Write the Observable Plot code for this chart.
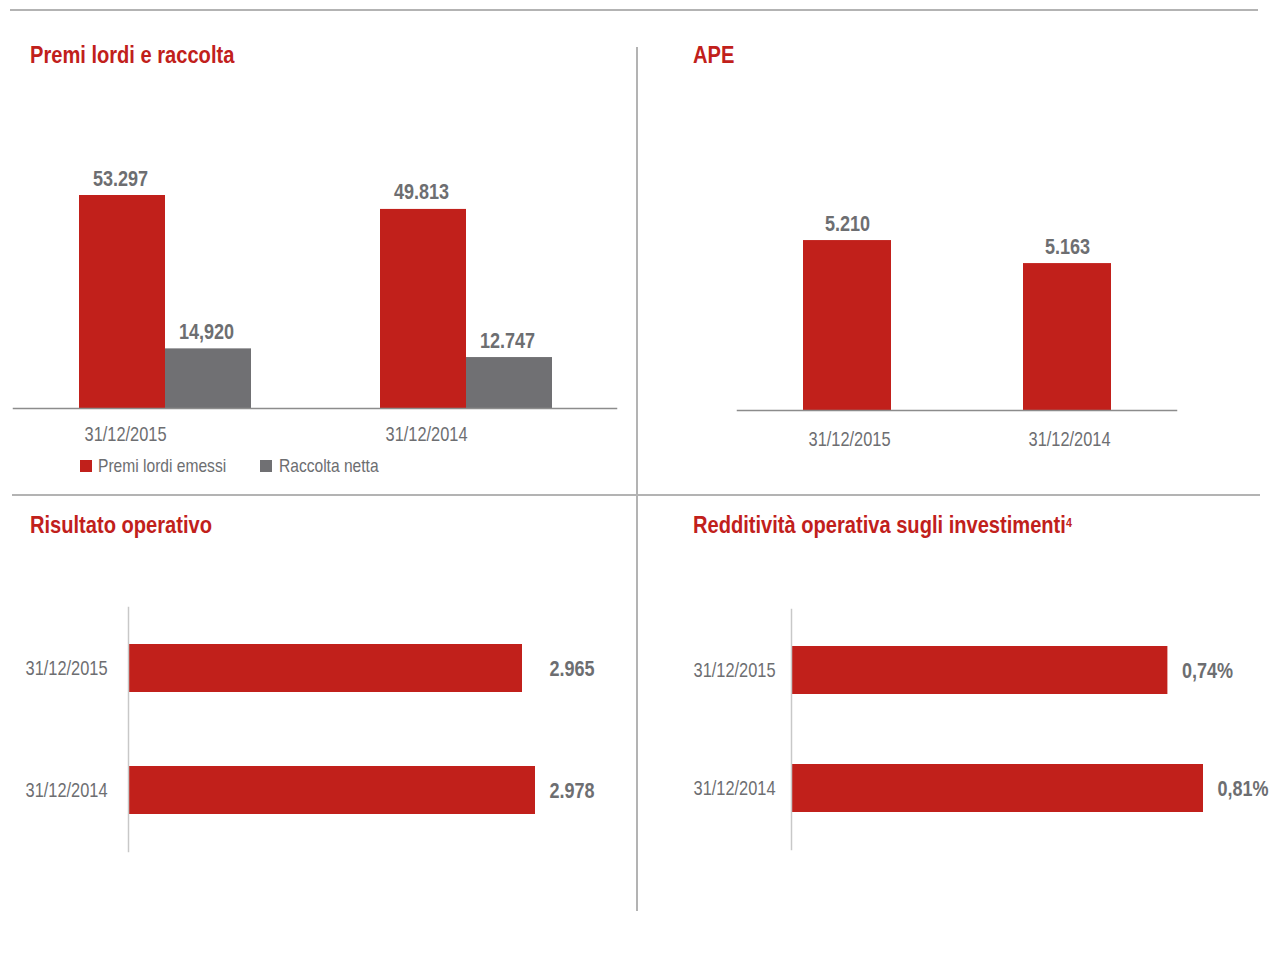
<!DOCTYPE html>
<html>
<head>
<meta charset="utf-8">
<script src="https://cdn.jsdelivr.net/npm/d3@7"></script>
<script src="https://cdn.jsdelivr.net/npm/@observablehq/plot@0.6"></script>
<style>
  html, body { margin: 0; padding: 0; background: #fff; }
  #root { position: relative; width: 1271px; height: 964px; overflow: hidden;
    font-family: "Liberation Sans", Arial, sans-serif; }
  .title { position: absolute; color: #c1201b; font-weight: bold; font-size: 24.5px; line-height: 24px;
    white-space: nowrap; transform: scaleX(0.82); transform-origin: 0 0; }
  .title sup { font-size: 13px; font-weight: bold; vertical-align: top; position: relative; top: -2px; }
  .hline { position: absolute; height: 0; border-top: 2px solid #b3b3b3; }
  .vline { position: absolute; width: 0; border-left: 2px solid #b3b3b3; }
  .legend { position: absolute; color: #6d6e71; font-size: 19px; line-height: 20px; white-space: nowrap;
    transform: scaleX(0.82); transform-origin: 0 0; }
  .sw { position: absolute; width: 12px; height: 12px; }
</style>
</head>
<body>
<div id="root"></div>
<script>
// ---- data ----
const dates = ["31/12/2015", "31/12/2014"];
const series = ["Premi lordi emessi", "Raccolta netta"];
const premiLordi = [53297, 49813];
const raccoltaNetta = [14920, 12747];
const premiLabels = ["53.297", "49.813"];
const raccoltaLabels = ["14,920", "12.747"];
const ape = [5210, 5163];
const apeLabels = ["5.210", "5.163"];
const risultato = [2965, 2978];
const risultatoLabels = ["2.965", "2.978"];
const redditivita = [0.74, 0.81];
const redditivitaLabels = ["0,74%", "0,81%"];
const titles = ["Premi lordi e raccolta", "APE", "Risultato operativo", "Redditività operativa sugli investimenti"];

// ---- style ----
const RED = "#c1201b";
const GRAY = "#707073";
const TXT = "#6d6e71";
const AXIS = "#8c8c8c";
const VAXIS = "#c8c8c8";
const FONT = '"Liberation Sans", Arial, sans-serif';
const NARROW = 0.82;
const svgStyle = {fontFamily: FONT, fontSize: "20px", background: "transparent", overflow: "visible", color: TXT};

const root = document.getElementById("root");
function place(el, left, top) {
  el.style.position = "absolute";
  el.style.left = left + "px";
  el.style.top = top + "px";
  root.appendChild(el);
}
function div(cls, css, html) {
  const d = document.createElement("div");
  d.className = cls;
  Object.assign(d.style, css);
  if (html != null) d.innerHTML = html;
  root.appendChild(d);
  return d;
}
// narrow the glyphs of every text horizontally around its own anchor (condensed typeface look)
function condense(svg) {
  svg.querySelectorAll("text").forEach(t => {
    const xa = t.getAttribute("x");
    const x = (xa && /^-?[\d.]+$/.test(xa)) ? +xa : 0;
    const tr = t.getAttribute("transform") || "";
    t.setAttribute("transform", `${tr} translate(${x},0) scale(${NARROW},1) translate(${-x},0)`.trim());
  });
  return svg;
}

// separators
div("hline", {left: "10px", top: "9px", width: "1248px"});
div("vline", {left: "636px", top: "47px", height: "864px"});
div("hline", {left: "12px", top: "494px", width: "1248px"});

// titles
div("title", {left: "30px", top: "43px"}, titles[0]);
div("title", {left: "693px", top: "43px"}, titles[1]);
div("title", {left: "30px", top: "513px"}, titles[2]);
div("title", {left: "693px", top: "513px"}, titles[3] + "<sup>4</sup>");

// ---- Panel 1: Premi lordi e raccolta ----
const premiData = dates.flatMap((d, i) => [
  {date: d, series: series[0], value: premiLordi[i], label: premiLabels[i]},
  {date: d, series: series[1], value: raccoltaNetta[i], label: raccoltaLabels[i]}
]);
const p1 = Plot.plot({
  width: 637, height: 350,
  marginLeft: 13, marginRight: 20, marginTop: 0, marginBottom: 42,
  fx: {domain: dates, paddingInner: 0.4252, paddingOuter: 0.2159, axis: null, label: null},
  x: {domain: series, padding: 0, axis: null},
  y: {domain: [0, 77068], axis: null},
  color: {domain: series, range: [RED, GRAY]},
  style: svgStyle,
  marks: [
    Plot.barY(premiData, {fx: "date", x: "series", y: "value", fill: "series"}),
    Plot.frame({anchor: "bottom", facet: "super", insetLeft: -65, insetRight: -64, stroke: AXIS, strokeWidth: 1.5}),
    Plot.text(premiData, {fx: "date", x: "series", y: "value", text: "label", lineAnchor: "bottom", dy: -10, dx: -2,
      fontSize: 22, fontWeight: "bold", fill: TXT}),
    Plot.text(dates, {fx: d => d, x: () => series[0], text: d => d, frameAnchor: "bottom", dy: 32, dx: 3,
      fontSize: 20, fill: TXT})
  ]
});
place(condense(p1), 0, 100);

// legend
div("sw", {left: "80px", top: "460px", background: RED});
div("legend", {left: "98px", top: "456px"}, series[0]);
div("sw", {left: "260px", top: "460px", background: GRAY});
div("legend", {left: "279px", top: "456px"}, series[1]);

// ---- Panel 2: APE ----
const apeData = dates.map((d, i) => ({date: d, value: ape[i], label: apeLabels[i]}));
const p2 = Plot.plot({
  width: 634, height: 360,
  marginLeft: 100, marginRight: 95, marginTop: 0, marginBottom: 50,
  x: {domain: dates, paddingInner: 0.6, paddingOuter: 0.2977, axis: null},
  y: {domain: [4863, 5496], clamp: true, axis: null},
  style: svgStyle,
  marks: [
    Plot.barY(apeData, {x: "date", y: "value", fill: RED}),
    Plot.frame({anchor: "bottom", stroke: AXIS, strokeWidth: 1.5}),
    Plot.text(apeData, {x: "date", y: "value", text: "label", lineAnchor: "bottom", dy: -10,
      fontSize: 22, fontWeight: "bold", fill: TXT}),
    Plot.text(apeData, {x: "date", text: "date", frameAnchor: "bottom", dy: 35, dx: 2, fontSize: 20, fill: TXT})
  ]
});
place(condense(p2), 637, 100);

// ---- Panel 3: Risultato operativo ----
const risData = dates.map((d, i) => ({date: d, value: risultato[i], label: risultatoLabels[i]}));
const p3 = Plot.plot({
  width: 637, height: 300,
  marginLeft: 128, marginRight: 97, marginTop: 27, marginBottom: 29,
  y: {domain: dates, paddingInner: 0.61, paddingOuter: 0.297, axis: null},
  x: {domain: [2571, 2983], clamp: true, axis: null},
  style: svgStyle,
  marks: [
    Plot.barX(risData, {y: "date", x: "value", fill: RED}),
    Plot.frame({anchor: "left", stroke: VAXIS, strokeWidth: 1.5}),
    Plot.text(risData, {y: "date", text: "label", frameAnchor: "right", textAnchor: "start", dx: 9,
      fontSize: 22, fontWeight: "bold", fill: TXT}),
    Plot.text(risData, {y: "date", text: "date", frameAnchor: "left", textAnchor: "end", dx: -21,
      fontSize: 20, fill: TXT})
  ]
});
place(condense(p3), 0, 580);

// ---- Panel 4: Redditività operativa ----
const redData = dates.map((d, i) => ({date: d, value: redditivita[i], label: redditivitaLabels[i]}));
const p4 = Plot.plot({
  width: 634, height: 300,
  marginLeft: 154, marginRight: 68, marginTop: 29, marginBottom: 31,
  y: {domain: dates, paddingInner: 0.597, paddingOuter: 0.307, axis: null},
  x: {domain: [0, 0.81], axis: null},
  style: svgStyle,
  marks: [
    Plot.barX(redData, {y: "date", x: "value", fill: RED}),
    Plot.frame({anchor: "left", stroke: VAXIS, strokeWidth: 1.5}),
    Plot.text(redData, {y: "date", x: "value", text: "label", textAnchor: "start", dx: 14,
      fontSize: 22, fontWeight: "bold", fill: TXT}),
    Plot.text(redData, {y: "date", text: "date", frameAnchor: "left", textAnchor: "end", dx: -16,
      fontSize: 20, fill: TXT})
  ]
});
place(condense(p4), 637, 580);
</script>
</body>
</html>
